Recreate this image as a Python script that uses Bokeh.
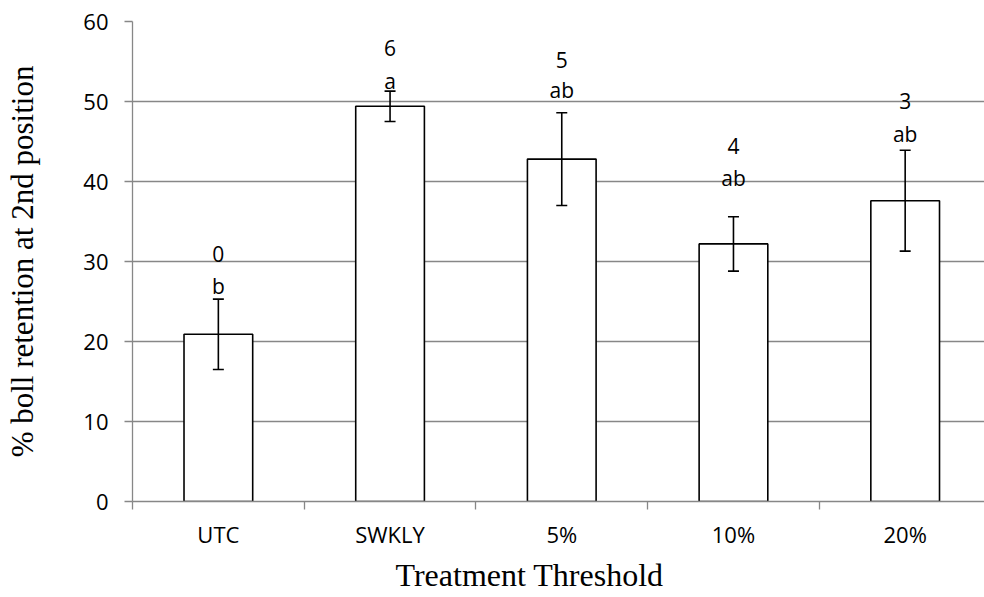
from bokeh.plotting import figure
from bokeh.models import ColumnDataSource, Range1d, FixedTicker, Whisker, TeeHead, Title
from bokeh.core.properties import value
from bokeh.embed import file_html
from bokeh.resources import INLINE

# Boll retention at 2nd fruiting position by treatment threshold
treatments = ["UTC", "SWKLY", "5%", "10%", "20%"]
retention = [20.9, 49.4, 42.8, 32.2, 37.6]
std_err = [4.4, 1.9, 5.8, 3.4, 6.3]
sprays = ["0", "6", "5", "4", "3"]
letters = ["b", "a", "ab", "ab", "ab"]

# heights (in % units) at which the annotation texts sit above each bar
letter_height = [27.0, 52.6, 51.4, 40.4, 46.0]
spray_height = [31.0, 56.7, 55.25, 44.5, 50.1]

GRAY = "#878787"

centers = [i + 0.5 for i in range(len(treatments))]
src = ColumnDataSource(dict(
    x=centers,
    ret=retention,
    upper=[r + e for r, e in zip(retention, std_err)],
    lower=[r - e for r, e in zip(retention, std_err)],
    letters=letters,
    sprays=sprays,
    letter_y=letter_height,
    spray_y=spray_height,
))

p = figure(
    width=984, height=597,
    x_range=Range1d(0, 4.962), y_range=Range1d(0, 60),
    output_backend="svg", toolbar_location=None,
    min_border_left=132, min_border_right=0,
    min_border_top=21, min_border_bottom=96,
)
p.outline_line_color = None
p.background_fill_color = "white"
p.border_fill_color = "white"

p.vbar(x="x", top="ret", width=0.4, source=src,
       fill_color="white", line_color="black", line_width=1.6)

head_kw = dict(size=11, line_color="black", line_width=1.6)
whisk = Whisker(source=src, base="x", upper="upper", lower="lower",
                line_color="black", line_width=1.6,
                upper_head=TeeHead(**head_kw), lower_head=TeeHead(**head_kw),
                level="annotation")
p.add_layout(whisk)

txt_kw = dict(text_align="center", text_baseline="middle",
              text_font=value("Open Sans"), text_font_size="21px",
              text_color="black", source=src)
p.text(x="x", y="letter_y", text="letters", **txt_kw)
p.text(x="x", y="spray_y", text="sprays", **txt_kw)

# x axis: labels at category centres, tick marks at category boundaries
p.xaxis.ticker = FixedTicker(ticks=centers, minor_ticks=list(range(len(treatments))))
p.xaxis.major_label_overrides = {c: t for c, t in zip(centers, treatments)}
p.xaxis.major_tick_out = 0
p.xaxis.major_tick_in = 0
p.xaxis.minor_tick_out = 8
p.xaxis.minor_tick_in = 0
p.xaxis.minor_tick_line_color = GRAY
p.xaxis.minor_tick_line_width = 1.3
p.xaxis.axis_line_color = GRAY
p.xaxis.axis_line_width = 1.3
p.xaxis.major_label_standoff = 9

# x axis title, set a little left of the frame centre
xtitle = Title(text="Treatment Threshold", align="left", offset=263,
               text_font="Liberation Serif", text_font_size="32px",
               text_font_style="normal", text_color="black", standoff=6)
p.add_layout(xtitle, "below")

p.yaxis.ticker = FixedTicker(ticks=[0, 10, 20, 30, 40, 50, 60])
p.yaxis.minor_tick_line_color = None
p.yaxis.major_tick_out = 8
p.yaxis.major_tick_in = 0
p.yaxis.major_tick_line_color = GRAY
p.yaxis.major_tick_line_width = 1.3
p.yaxis.axis_line_color = GRAY
p.yaxis.axis_line_width = 1.3
p.yaxis.major_label_standoff = 16
p.yaxis.axis_label = "% boll retention at 2nd position"
p.yaxis.axis_label_standoff = 40
p.yaxis.axis_label_text_font = "Liberation Serif"
p.yaxis.axis_label_text_font_size = "31px"
p.yaxis.axis_label_text_font_style = "normal"
p.yaxis.axis_label_text_color = "black"

for ax in (p.xaxis, p.yaxis):
    ax.major_label_text_font = "Open Sans"
    ax.major_label_text_font_size = "22px"
    ax.major_label_text_color = "black"

p.xgrid.visible = False
p.ygrid.ticker = FixedTicker(ticks=[10, 20, 30, 40, 50, 60])
p.ygrid.grid_line_color = GRAY
p.ygrid.grid_line_width = 1.3

open("out.html", "w").write(file_html(p, INLINE))
